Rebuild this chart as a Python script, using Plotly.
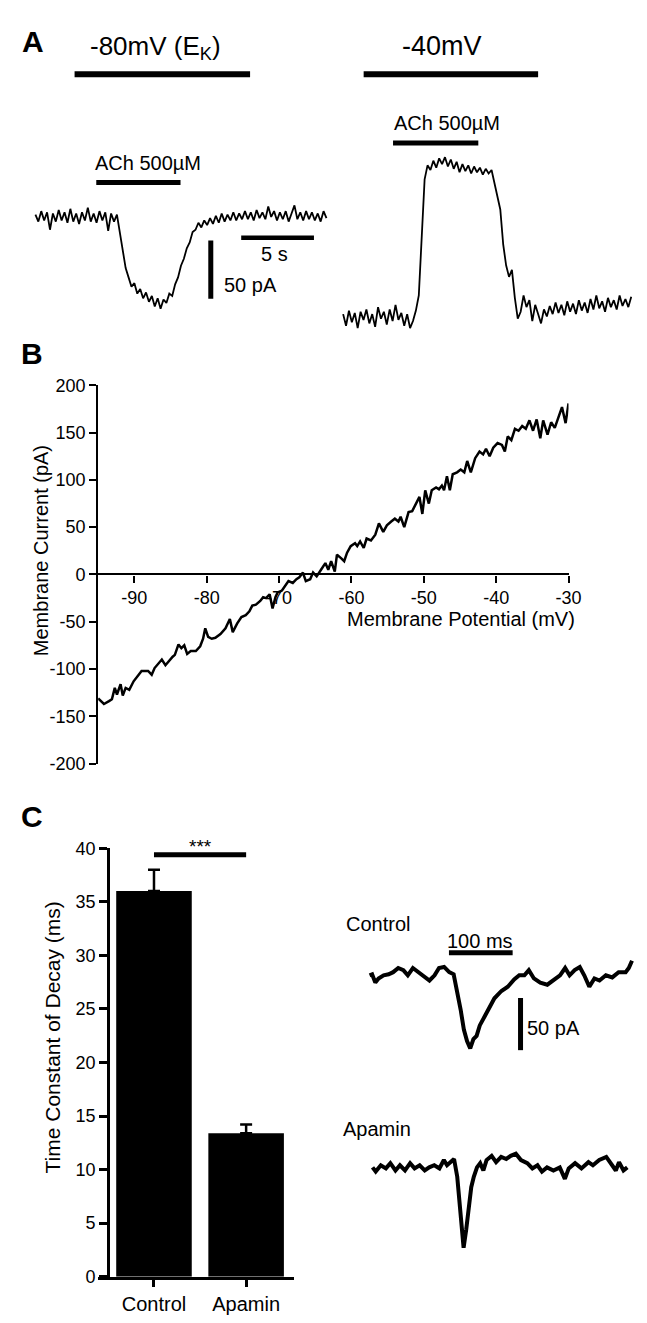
import plotly.graph_objects as go

W, H = 647, 1323
FONT = "Liberation Sans, Arial, Helvetica, sans-serif"

# ---------------- data ----------------
# Panel A: whole-cell currents (pA), sampled every 0.2 s
A1_DT = 0.2
A1_CURRENT = [2, -4, 5, -3, 4, -11, 3, -4, 6, -3,
              4, -5, 7, -4, 3, -6, 4, -3, 8, -4,
              3, -5, 5, -3, 4, -12, 3, -4, 2, -14,
              -32, -44, -52, -60, -57, -66, -62, -70, -65, -73,
              -68, -77, -70, -79, -71, -74, -66, -68, -58, -52,
              -42, -36, -27, -22, -13, -11, -5, -9, -3, -7,
              -1, -6, 1, -5, 3, -4, 2, -3, 4, -3,
              3, -2, 5, -2, 4, -3, 6, -1, 4, -2,
              9, 0, 5, -3, 4, -2, 5, -4, 3, 10,
              -2, 4, -3, 5, -2, 4, -3, 3, -4, 5,
              -1]
A2_DT = 0.2
A2_CURRENT = [2, -8, 5, -5, 3, -10, 4, -3, 6, -6,
              2, -9, 8, -2, 4, -7, 6, -4, 10, -3,
              3, -8, 2, -10, -4, 5, 18, 70, 118, 130,
              126, 134, 128, 136, 131, 137, 129, 135, 127, 133,
              124, 131, 125, 130, 123, 129, 124, 128, 122, 127,
              123, 126, 114, 104, 92, 62, 44, 34, 40, 16,
              -2, 4, 18, 8, 14, -4, 10, 2, -6, 6,
              0, 9, 2, 12, 3, 10, 1, 13, 4, 11,
              2, 14, 5, 12, 3, 15, 6, 18, 7, 13,
              4, 16, 8, 14, 6, 18, 9, 15, 8, 17]
A1_STEP = [2.69, 14.75]   # s, holding at -80 mV
A1_ACH = [4.18, 9.97]     # s, ACh application
A2_STEP = [1.41, 13.4]
A2_ACH = [3.43, 9.29]
SCALE_A_TIME = 5          # s
SCALE_A_CURRENT = 50      # pA

# Panel B: I-V relation
IV_MV = [-95.0, -94.7, -94.2, -93.5, -93.1, -92.7, -92.4, -91.9, -91.6, -91.2,
         -90.7, -90.1, -89.4, -89.0, -88.1, -87.6, -87.2, -86.6, -86.2, -85.7,
         -85.1, -84.7, -84.4, -83.9, -83.5, -83.1, -82.7, -82.2, -81.5, -80.9,
         -80.5, -80.2, -79.8, -79.3, -78.8, -78.1, -77.4, -76.8, -76.4, -75.8,
         -75.2, -74.6, -74.1, -73.7, -73.2, -72.6, -72.2, -71.8, -71.3, -70.9,
         -70.5, -70.2, -69.6, -69.2, -68.7, -68.1, -67.6, -67.2, -66.7, -66.3,
         -65.7, -65.3, -64.8, -64.2, -63.6, -63.2, -62.8, -62.3, -62.0, -61.4,
         -61.0, -60.6, -60.1, -59.5, -59.2, -58.8, -58.3, -57.9, -57.3, -56.7,
         -56.2, -55.6, -55.1, -54.5, -54.0, -53.5, -53.2, -52.7, -52.1, -51.6,
         -51.0, -50.6, -50.2, -49.8, -49.3, -48.9, -48.3, -47.9, -47.5, -47.2,
         -46.8, -46.4, -46.0, -45.4, -44.9, -44.4, -44.0, -43.5, -42.9, -42.3,
         -41.8, -41.4, -40.9, -40.4, -39.8, -39.2, -38.8, -38.4, -37.9, -37.4,
         -36.9, -36.4, -35.9, -35.4, -34.9, -34.4, -33.9, -33.5, -32.9, -32.4,
         -31.9, -31.4, -30.9, -30.4, -30.0]
IV_PA = [-131, -133, -137, -134, -132, -120, -127, -116, -128, -120,
         -122, -113, -106, -102, -102, -106, -99, -94, -90, -96,
         -90, -87, -85, -74, -78, -75, -84, -81, -81, -76,
         -68, -57, -66, -68, -67, -63, -57, -47, -61, -52,
         -45, -43, -39, -33, -32, -28, -24, -25, -21, -36,
         -24, -19, -17, -12, -7, -9, -5, -3, 2, -7,
         -5, 2, -2, 5, 12, 5, 14, 3, 21, 17,
         14, 23, 30, 33, 30, 35, 28, 38, 36, 42,
         54, 45, 52, 56, 59, 56, 61, 50, 66, 67,
         76, 82, 64, 89, 75, 89, 92, 90, 94, 89,
         104, 89, 106, 108, 111, 108, 120, 108, 123, 130,
         127, 133, 125, 134, 139, 137, 130, 146, 142, 154,
         152, 157, 154, 163, 152, 164, 144, 163, 148, 161,
         155, 167, 177, 160, 181]
B_XTICKS = [-90, -80, -70, -60, -50, -40, -30]
B_YTICKS = [-200, -150, -100, -50, 0, 50, 100, 150, 200]

# Panel C: decay time constants
C_GROUPS = ["Control", "Apamin"]
C_TAU = [36.0, 13.4]
C_SEM = [2.0, 0.8]
C_YTICKS = [0, 5, 10, 15, 20, 25, 30, 35, 40]
SIG_LABEL = "***"

CTRL_T = [0, 4, 9, 14, 22, 30, 37, 45, 53, 60, 68, 76, 84, 94, 102, 109, 117, 125, 132, 137,
          143, 148, 153, 158, 163, 168, 173, 181, 189, 196, 207, 217, 227, 235, 243, 250, 258, 268, 279, 289,
          299, 307, 314, 322, 330, 337, 345, 353, 361, 371, 381, 391, 402, 407, 412]
CTRL_I = [0, 1, -7, -3, 0, 1, 3, 7, 5, 0, 7, 3, 0, -5, 0, 7, 8, 3, 1, -14,
          -33, -52, -63, -70, -61, -58, -48, -39, -30, -22, -15, -11, -4, 0, 0, 5, -3, -7, -9, -5,
          0, 7, 0, 5, 8, 0, -11, -3, -5, 0, -2, 3, 3, 7, 14]
APA_T = [0, 5, 13, 21, 28, 36, 43, 51, 59, 66, 74, 82, 89, 97, 105, 112, 117, 128, 133, 138,
         141, 143, 147, 151, 155, 159, 164, 169, 174, 179, 187, 194, 202, 210, 217, 225, 233, 243, 251, 259,
         266, 274, 284, 294, 302, 308, 318, 328, 339, 346, 356, 367, 374, 382, 387, 394, 400]
APA_I = [0, -4, 2, -1, 4, -3, 2, -3, 4, -1, 2, -3, 0, 2, -1, 7, 2, 8, -9, -47,
         -63, -77, -60, -37, -19, -9, 0, 4, -3, 7, 11, 5, 10, 8, 11, 13, 7, 4, -1, 2,
         -4, 0, -3, 0, -11, -1, 4, -1, 5, 2, 7, 10, 4, -3, 5, -3, 0]
SCALE_C_TIME = 100        # ms
SCALE_C_CURRENT = 50      # pA


# ---------------- layout helpers (pixel -> paper) ----------------
def fx(px):
    return px / W


def fy(py):
    return 1 - py / H


def xr(lo, hi, origin, ppu):
    return [(lo - origin) / ppu, (hi - origin) / ppu]


def yr(top, bottom, origin, ppu):
    return [(origin - bottom) / ppu, (origin - top) / ppu]


BLACK = "black"
fig = go.Figure()

# ---- Panel B ----
fig.add_trace(go.Scatter(x=IV_MV, y=IV_PA, mode="lines", line=dict(color=BLACK, width=2.5),
                         xaxis="x", yaxis="y", hoverinfo="skip"))

# ---- Panel C bars ----
fig.add_trace(go.Bar(x=C_GROUPS, y=C_TAU, width=0.82,
                     marker=dict(color=BLACK, line=dict(width=0)),
                     error_y=dict(type="data", array=C_SEM, arrayminus=[0] * len(C_SEM), symmetric=False,
                                  color=BLACK, thickness=2.5, width=6),
                     xaxis="x2", yaxis="y2", hoverinfo="skip"))
SIG_Y = 39.4
fig.add_trace(go.Scatter(x=C_GROUPS, y=[SIG_Y, SIG_Y], mode="lines", line=dict(color=BLACK, width=5),
                         xaxis="x2", yaxis="y2", cliponaxis=False, hoverinfo="skip"))

# ---- Panel A traces ----
fig.add_trace(go.Scatter(x=[i * A1_DT for i in range(len(A1_CURRENT))], y=A1_CURRENT, mode="lines",
                         line=dict(color=BLACK, width=1.8), xaxis="x3", yaxis="y3", hoverinfo="skip"))
A1_SB_T0, A1_SB_Y = 14.14, -17.8
A1_SBV_T, A1_SBV_Y0 = 12.05, -20.3
fig.add_trace(go.Scatter(x=[A1_SB_T0, A1_SB_T0 + SCALE_A_TIME], y=[A1_SB_Y, A1_SB_Y], mode="lines",
                         line=dict(color=BLACK, width=4.5), xaxis="x3", yaxis="y3", hoverinfo="skip"))
fig.add_trace(go.Scatter(x=[A1_SBV_T, A1_SBV_T], y=[A1_SBV_Y0, A1_SBV_Y0 - SCALE_A_CURRENT], mode="lines",
                         line=dict(color=BLACK, width=5), xaxis="x3", yaxis="y3", hoverinfo="skip"))
fig.add_trace(go.Scatter(x=[i * A2_DT for i in range(len(A2_CURRENT))], y=A2_CURRENT, mode="lines",
                         line=dict(color=BLACK, width=1.8), xaxis="x4", yaxis="y4", hoverinfo="skip"))

# ---- Panel C traces ----
fig.add_trace(go.Scatter(x=CTRL_T, y=CTRL_I, mode="lines", line=dict(color=BLACK, width=4),
                         xaxis="x5", yaxis="y5", hoverinfo="skip"))
C_SB_T0, C_SB_Y = 124.6, 21.7
C_SBV_T, C_SBV_Y0 = 237, -21.7
fig.add_trace(go.Scatter(x=[C_SB_T0, C_SB_T0 + SCALE_C_TIME], y=[C_SB_Y, C_SB_Y], mode="lines",
                         line=dict(color=BLACK, width=5), xaxis="x5", yaxis="y5", hoverinfo="skip"))
fig.add_trace(go.Scatter(x=[C_SBV_T, C_SBV_T], y=[C_SBV_Y0, C_SBV_Y0 - SCALE_C_CURRENT], mode="lines",
                         line=dict(color=BLACK, width=5), xaxis="x5", yaxis="y5", hoverinfo="skip"))
fig.add_trace(go.Scatter(x=APA_T, y=APA_I, mode="lines", line=dict(color=BLACK, width=4),
                         xaxis="x6", yaxis="y6", hoverinfo="skip"))

# ---- protocol bars (time from data, vertical position from layout) ----
shapes = []
for xref, window, ypx, wid in [("x3", A1_STEP, 57, 6), ("x3", A1_ACH, 167, 5),
                               ("x4", A2_STEP, 57, 6), ("x4", A2_ACH, 127, 5)]:
    shapes.append(dict(type="line", xref=xref, yref="paper", x0=window[0], x1=window[1],
                       y0=fy(ypx), y1=fy(ypx), line=dict(color=BLACK, width=wid)))


def txt(s, x, y, size=20, xanchor="center", yanchor="middle", angle=0, bold=False):
    return dict(text=f"<b>{s}</b>" if bold else s, x=fx(x), y=fy(y), xref="paper", yref="paper",
                showarrow=False, font=dict(family=FONT, size=size, color=BLACK),
                xanchor=xanchor, yanchor=yanchor, textangle=angle)


annotations = [
    txt("A", 26, 24, 30, bold=True),
    txt("-80mV (E<sub>K</sub>)", 151, 30, 26),
    txt("-40mV", 443, 28, 27),
    txt("ACh 500µM", 143, 147, 20),
    txt("ACh 500µM", 448, 107, 20),
    txt("5 s", 272, 240, 20),
    txt("50 pA", 218, 271, 20, xanchor="left"),
    txt("B", 24, 341, 30, bold=True),
    txt("Membrane Current (pA)", 33, 541, 20, angle=-90),
    txt("Membrane Potential (mV)", 462, 610, 20),
    txt("C", 25, 811, 30, bold=True),
    txt(SIG_LABEL, 196, 841, 19),
    txt("Time Constant of Decay (ms)", 45, 1035, 21, angle=-90),
    txt("Control", 343, 920, 20, xanchor="left"),
    txt("100 ms", 482, 937, 20),
    txt("50 pA", 528, 1025, 20, xanchor="left"),
    txt("Apamin", 340, 1128, 20, xanchor="left"),
]

axis_common = dict(showline=True, linecolor=BLACK, linewidth=2.2, ticks="outside", tickcolor=BLACK,
                   tickwidth=2.2, ticklen=7, showgrid=False, zeroline=False,
                   tickfont=dict(family=FONT, size=18, color=BLACK))
hidden = dict(visible=False, showgrid=False, zeroline=False)

b_ydom = [fy(757), fy(373)]
b_zero_pos = b_ydom[0] + (0 - B_YTICKS[0]) / (B_YTICKS[-1] - B_YTICKS[0]) * (b_ydom[1] - b_ydom[0])

fig.update_layout(
    width=W, height=H, autosize=False,
    margin=dict(l=0, r=0, t=0, b=0, pad=0),
    paper_bgcolor="white", plot_bgcolor="white", showlegend=False,
    xaxis=dict(axis_common, domain=[fx(92), fx(572)], range=[-95, -30], anchor="free", position=b_zero_pos,
               tickvals=B_XTICKS, ticktext=[str(v) for v in B_XTICKS]),
    yaxis=dict(axis_common, domain=b_ydom, range=[B_YTICKS[0], B_YTICKS[-1]], anchor="x",
               tickvals=B_YTICKS, ticktext=[str(v) for v in B_YTICKS]),
    xaxis2=dict(axis_common, domain=[fx(92), fx(292)], type="category", range=[-0.606, 1.521], anchor="y2",
                linewidth=2.5, tickwidth=2.5, ticklen=8,
                tickfont=dict(family=FONT, size=20, color=BLACK)),
    yaxis2=dict(axis_common, domain=[fy(1278), fy(843)], range=[0, 40], anchor="free", position=fx(102),
                linewidth=2.5, tickwidth=2.5, ticklen=8,
                tickvals=C_YTICKS, ticktext=[str(v) for v in C_YTICKS]),
    xaxis3=dict(hidden, domain=[fx(20), fx(330)], range=xr(20, 330, 28, 14.85), anchor="y3"),
    yaxis3=dict(hidden, domain=[fy(310), fy(40)], range=yr(40, 310, 202, 1.18), anchor="x3"),
    xaxis4=dict(hidden, domain=[fx(335), fx(645)], range=xr(335, 645, 342, 14.85), anchor="y4"),
    yaxis4=dict(hidden, domain=[fy(325), fy(40)], range=yr(40, 325, 303, 1.18), anchor="x4"),
    xaxis5=dict(hidden, domain=[fx(360), fx(645)], range=xr(360, 645, 369, 0.65), anchor="y5"),
    yaxis5=dict(hidden, domain=[fy(1060), fy(930)], range=yr(930, 1060, 972, 1.06), anchor="x5"),
    xaxis6=dict(hidden, domain=[fx(360), fx(645)], range=xr(360, 645, 372, 0.65), anchor="y6"),
    yaxis6=dict(hidden, domain=[fy(1265), fy(1130)], range=yr(1130, 1265, 1167, 1.06), anchor="x6"),
    shapes=shapes,
    annotations=annotations,
)

fig.write_html("out.html", include_plotlyjs=True, config={"displayModeBar": False})
